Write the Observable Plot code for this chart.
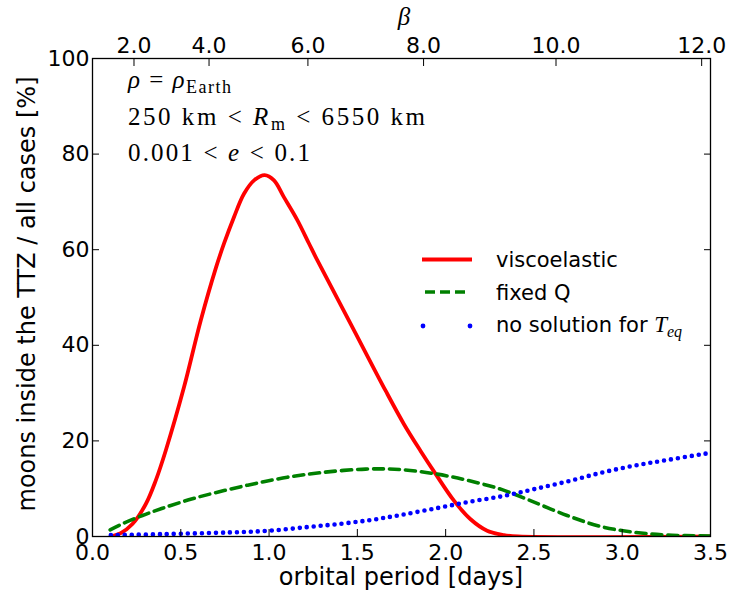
<!DOCTYPE html>
<html>
<head>
<meta charset="utf-8">
<script src="https://cdn.jsdelivr.net/npm/d3@7"></script>
<script src="https://cdn.jsdelivr.net/npm/@observablehq/plot@0.6"></script>
<style>
  html, body { margin: 0; padding: 0; background: #fff; }
  #chart { width: 732px; height: 596px; }
</style>
</head>
<body>
<div id="chart"></div>
<script>
// ---- data ----
const viscoPeriod = [0.104, 0.16, 0.226, 0.302, 0.358, 0.415, 0.518, 0.613, 0.698, 0.745, 0.801, 0.858, 0.915, 0.975, 1.028, 1.084, 1.16, 1.226, 1.273, 1.462, 1.66, 1.764, 1.858, 1.943, 2.047, 2.141, 2.235, 2.33, 2.41, 3.5];
const viscoShare  = [0, 0.7, 2.6, 6.8, 11.7, 18, 31.2, 45.2, 56.1, 61.3, 66.8, 71.7, 74.5, 75.6, 74.5, 71.0, 66.2, 61.3, 57.8, 44.5, 30.5, 23.5, 17.9, 13.1, 7.5, 3.6, 1.2, 0.3, 0, 0];

const fixedQPeriod = [0.1, 0.16, 0.283, 0.396, 0.566, 0.745, 0.924, 1.104, 1.302, 1.547, 1.745, 1.943, 2.13, 2.32, 2.48, 2.688, 2.877, 3.065, 3.254, 3.5];
const fixedQShare  = [1.4, 2.5, 4.4, 5.9, 7.9, 9.6, 11.1, 12.4, 13.4, 14.1, 14.0, 13.1, 11.7, 9.8, 7.5, 4.4, 2.1, 0.9, 0.3, 0.1];

const noSolPeriod = [0.104, 0.396, 0.773, 0.999, 1.226, 1.415, 1.585, 1.745, 1.952, 2.141, 2.33, 2.5, 2.688, 2.877, 3.065, 3.254, 3.5];
const noSolShare  = [0.3, 0.5, 0.85, 1.2, 2.0, 2.7, 3.5, 4.5, 5.95, 7.3, 8.5, 9.9, 11.5, 13.3, 14.8, 16.0, 17.5];

const xTicks = [0, 0.5, 1.0, 1.5, 2.0, 2.5, 3.0, 3.5];
const yTicks = [0, 20, 40, 60, 80, 100];
const betaTicks = [2, 4, 6, 8, 10, 12];
const betaTickPeriods = [0.235, 0.66, 1.22, 1.875, 2.625, 3.45];

const seriesNames = ["viscoelastic", "fixed Q", "no solution for "];
const xTitle = "orbital period [days]";
const yTitle = "moons inside the TTZ / all cases [%]";
const topTitle = "β";

// ---- build tables ----
const rows = (P, V) => P.map((p, i) => ({p, v: V[i]}));
const visco = rows(viscoPeriod, viscoShare);
const fixedQ = rows(fixedQPeriod, fixedQShare);
const noSol = rows(noSolPeriod, noSolShare);

const SANS = "DejaVu Sans, sans-serif";
const SERIF = "Liberation Serif, serif";
const W = 732, H = 596, ML = 92, MR = 22, MT = 58, MB = 60;
const f1 = d3.format(".1f");

const chart = Plot.plot({
  width: W, height: H,
  marginLeft: ML, marginRight: MR, marginTop: MT, marginBottom: MB,
  style: {fontFamily: SANS, fontSize: "22px", background: "white", color: "black", overflow: "visible"},
  x: {domain: [0, 3.5]},
  y: {domain: [0, 100]},
  marks: [
    Plot.line(visco, {x: "p", y: "v", stroke: "#ff0000", strokeWidth: 3.8, curve: "catmull-rom", clip: true}),
    Plot.line(fixedQ, {x: "p", y: "v", stroke: "#008000", strokeWidth: 3.6, strokeDasharray: "10,6", curve: "catmull-rom", clip: true}),
    Plot.line(noSol, {x: "p", y: "v", stroke: "#0000ff", strokeWidth: 4.6, strokeDasharray: "0,7", strokeLinecap: "round", curve: "catmull-rom", clip: true}),
    Plot.frame({stroke: "black", strokeWidth: 1.3}),
    // inward ticks on all four sides
    Plot.axisX(xTicks, {anchor: "bottom", tickSize: -7, fill: "none", label: null}),
    Plot.axisX(betaTickPeriods, {anchor: "top", tickSize: -7, fill: "none", label: null}),
    Plot.axisY(yTicks, {anchor: "left", tickSize: -7, fill: "none", label: null}),
    Plot.axisY(yTicks, {anchor: "right", tickSize: -7, fill: "none", label: null}),
    // tick labels
    Plot.axisX(xTicks, {anchor: "bottom", tickSize: 0, tickPadding: 8, tickFormat: d => f1(d), label: null, fontSize: 22}),
    Plot.axisX(betaTickPeriods, {anchor: "top", tickSize: 0, tickPadding: 6, tickFormat: d => f1(betaTicks[betaTickPeriods.indexOf(d)]), label: null, fontSize: 22}),
    Plot.axisY(yTicks, {anchor: "left", tickSize: 0, tickPadding: 3, tickFormat: d => String(d), label: null, fontSize: 22})
  ]
});

document.getElementById("chart").appendChild(chart);

// ---- titles, annotation and legend ----
const svg = d3.select(chart);
const g = svg.append("g").attr("font-family", SANS).attr("fill", "black").attr("text-anchor", "start");
const cx = (ML + W - MR) / 2, cy = (MT + H - MB) / 2;

g.append("text").attr("x", cx).attr("y", 585).attr("text-anchor", "middle").attr("font-size", 24).text(xTitle);
g.append("text").attr("transform", `translate(35,${cy - 3}) rotate(-90)`).attr("text-anchor", "middle").attr("font-size", 24).text(yTitle);
g.append("text").attr("x", cx + 3).attr("y", 25).attr("text-anchor", "middle")
  .attr("font-family", SERIF).attr("font-style", "italic").attr("font-size", 25).text(topTitle);

// annotation (math text)
const ann = g.append("g").attr("font-family", SERIF).attr("font-size", 25).style("white-space", "pre");
function mathLine(y, len, parts) {
  const t = ann.append("text").attr("x", 128).attr("y", y).attr("text-anchor", "start")
    .attr("textLength", len).attr("lengthAdjust", "spacing");
  parts.forEach(([s, opt]) => {
    const ts = t.append("tspan").text(s);
    if (opt && opt.it) ts.attr("font-style", "italic");
    if (opt && opt.sub) ts.attr("font-size", 18).attr("dy", 5);
    if (opt && opt.up) ts.attr("dy", -5);
  });
}
mathLine(88, 103, [["ρ", {it: true}], [" = "], ["ρ", {it: true}], ["Earth", {sub: true}]]);
mathLine(125, 297, [["250 km < "], ["R", {it: true}], ["m", {sub: true}], [" < 6550 km", {up: true}]]);
mathLine(161, 182, [["0.001 < "], ["e", {it: true}], [" < 0.1"]]);

// legend
const leg = g.append("g");
const legY = [259.5, 292, 326];
leg.append("line").attr("x1", 422).attr("x2", 472).attr("y1", legY[0]).attr("y2", legY[0])
  .attr("stroke", "#ff0000").attr("stroke-width", 3.8);
leg.append("line").attr("x1", 425).attr("x2", 466).attr("y1", legY[1]).attr("y2", legY[1])
  .attr("stroke", "#008000").attr("stroke-width", 3.6).attr("stroke-dasharray", "10,5");
[423, 470].forEach(x => leg.append("circle").attr("cx", x).attr("cy", legY[2]).attr("r", 2.4).attr("fill", "#0000ff"));
leg.append("text").attr("x", 496).attr("y", legY[0] + 7.5).attr("font-size", 21).text(seriesNames[0]);
leg.append("text").attr("x", 496).attr("y", legY[1] + 7.5).attr("font-size", 21).text(seriesNames[1]);
const t3 = leg.append("text").attr("x", 496).attr("y", legY[2] + 6).attr("font-size", 21).style("white-space", "pre");
t3.append("tspan").text(seriesNames[2]);
t3.append("tspan").attr("font-family", SERIF).attr("font-style", "italic").attr("font-size", 23).text("T");
t3.append("tspan").attr("font-family", SERIF).attr("font-style", "italic").attr("font-size", 16).attr("dy", 5).text("eq");
</script>
</body>
</html>
